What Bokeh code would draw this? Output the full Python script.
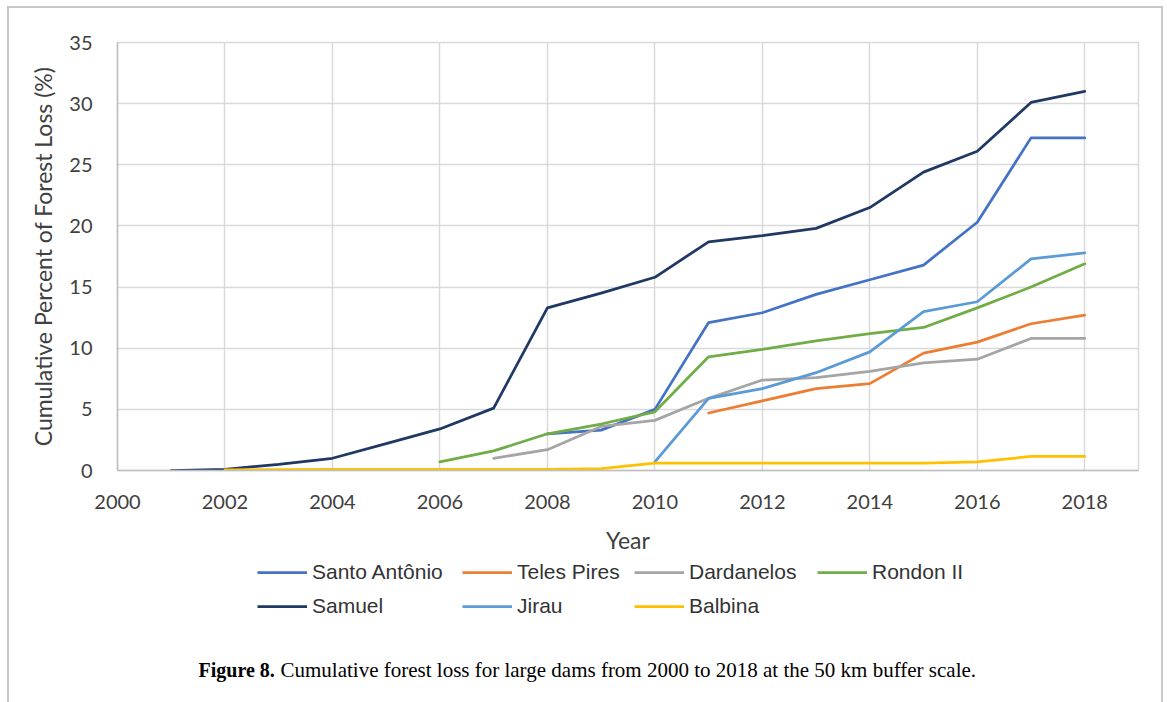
from bokeh.plotting import figure
from bokeh.layouts import column
from bokeh.models import FixedTicker, Legend, LegendItem, Label, Range1d
from bokeh.embed import file_html
from bokeh.resources import INLINE

# ---- data ----
series_names = ["Santo Antônio", "Teles Pires", "Dardanelos", "Rondon II",
                "Samuel", "Jirau", "Balbina"]
series_colors = ["#4472C4", "#ED7D31", "#A5A5A5", "#70AD47",
                 "#1F3864", "#5B9BD5", "#FFC000"]

santo_years = list(range(2008, 2019))
santo_vals = [3.0, 3.3, 5.0, 12.1, 12.9, 14.4, 15.6, 16.8, 20.3, 27.2, 27.2]

teles_years = list(range(2011, 2019))
teles_vals = [4.7, 5.7, 6.7, 7.1, 9.6, 10.5, 12.0, 12.7]

dardanelos_years = list(range(2007, 2019))
dardanelos_vals = [1.0, 1.7, 3.6, 4.1, 5.9, 7.4, 7.6, 8.1, 8.8, 9.1, 10.8, 10.8]

rondon_years = list(range(2006, 2019))
rondon_vals = [0.7, 1.6, 3.0, 3.8, 4.8, 9.3, 9.9, 10.6, 11.2, 11.7, 13.3, 15.0, 16.9]

samuel_years = list(range(2001, 2019))
samuel_vals = [0.0, 0.1, 0.5, 1.0, 2.2, 3.4, 5.1, 13.3, 14.5, 15.8, 18.7, 19.2,
               19.8, 21.5, 24.4, 26.1, 30.1, 31.0]

jirau_years = list(range(2010, 2019))
jirau_vals = [0.7, 5.9, 6.7, 8.0, 9.7, 13.0, 13.8, 17.3, 17.8]

balbina_years = list(range(2002, 2019))
balbina_vals = [0.05, 0.08, 0.1, 0.1, 0.1, 0.1, 0.1, 0.15, 0.6, 0.6, 0.6, 0.6,
                0.6, 0.6, 0.7, 1.15, 1.15]

x_ticks = list(range(2000, 2019, 2))
y_ticks = [0, 5, 10, 15, 20, 25, 30, 35]

series_years = [santo_years, teles_years, dardanelos_years, rondon_years,
                samuel_years, jirau_years, balbina_years]
series_vals = [santo_vals, teles_vals, dardanelos_vals, rondon_vals,
               samuel_vals, jirau_vals, balbina_vals]

caption_bold = "Figure 8."
caption_rest = "Cumulative forest loss for large dams from 2000 to 2018 at the 50 km buffer scale."

TICK_FONT = "Lato"
LINE_W = 2.75
W = 1152

# ---- main chart ----
p = figure(width=W, height=548, output_backend="svg", toolbar_location=None,
           x_range=Range1d(2000, 2019), y_range=Range1d(0, 35),
           min_border_left=108, min_border_right=23, min_border_top=34,
           min_border_bottom=79)
p.background_fill_color = "white"
p.border_fill_color = "white"
p.outline_line_color = "#d9d9d9"
p.outline_line_width = 1.5

p.xaxis.ticker = FixedTicker(ticks=x_ticks)
p.yaxis.ticker = FixedTicker(ticks=y_ticks)
for ax in (p.xaxis[0], p.yaxis[0]):
    ax.axis_line_color = "#bfbfbf"
    ax.axis_line_width = 1.5
    ax.major_tick_line_color = None
    ax.minor_tick_line_color = None
    ax.major_label_text_font = TICK_FONT
    ax.major_label_text_font_size = "20px"
    ax.major_label_text_color = "#404040"
    ax.axis_label_text_font = TICK_FONT
    ax.axis_label_text_font_size = "23px"
    ax.axis_label_text_font_style = "normal"
    ax.axis_label_text_color = "#404040"

p.xaxis.axis_label = "Year"
p.yaxis.axis_label = "Cumulative Percent of Forest Loss (%)"
p.xaxis.major_label_standoff = 18
p.yaxis.major_label_standoff = 19
p.xaxis.axis_label_standoff = 14
p.yaxis.axis_label_standoff = 9

p.xgrid.ticker = FixedTicker(ticks=x_ticks)
p.ygrid.ticker = FixedTicker(ticks=y_ticks)
p.xgrid.grid_line_color = "#d9d9d9"
p.ygrid.grid_line_color = "#d9d9d9"
p.xgrid.grid_line_width = 1.5
p.ygrid.grid_line_width = 1.5

for name, color, xs, ys in zip(series_names, series_colors, series_years, series_vals):
    p.line(xs, ys, line_color=color, line_width=LINE_W, line_join="round",
           line_cap="round")

# ---- legend + caption panel (frame aligned with the chart frame) ----
H2 = 146
q = figure(width=W, height=H2, output_backend="svg", toolbar_location=None,
           x_range=Range1d(0, 1), y_range=Range1d(0, 1),
           x_axis_type=None, y_axis_type=None,
           min_border_left=0, min_border_right=0, min_border_top=0,
           min_border_bottom=0)
q.outline_line_color = None
q.grid.visible = False
q.background_fill_color = "white"
q.border_fill_color = "white"

NAN = float("nan")
legend_pos = [(140, 118), (345, 118), (517, 118), (700, 118),
              (140, 84), (345, 84), (517, 84)]
for name, color, pos in zip(series_names, series_colors, legend_pos):
    r = q.line(x=[NAN], y=[NAN], line_color=color, line_width=LINE_W)
    lg = Legend(items=[LegendItem(label=name, renderers=[r])], location=pos,
                orientation="horizontal", padding=0, margin=0, spacing=0,
                border_line_color=None, background_fill_alpha=0,
                glyph_width=50, glyph_height=24, label_height=24,
                label_standoff=5, label_text_font="Liberation Sans",
                label_text_font_size="21px", label_text_color="#333333")
    q.add_layout(lg, "center")

q.add_layout(Label(x=81, y=33, x_units="screen", y_units="screen",
                   text=caption_bold, text_font="Liberation Serif",
                   text_font_style="bold", text_font_size="20px",
                   text_baseline="middle", text_color="black"))
q.add_layout(Label(x=163, y=33, x_units="screen", y_units="screen",
                   text=caption_rest, text_font="Liberation Serif",
                   text_font_size="21px", text_baseline="middle",
                   text_color="black"))

layout = column(p, q, spacing=0)
layout.styles = {"margin-left": "7px", "margin-top": "6px",
                 "border-left": "2px solid #c8c8c8",
                 "border-top": "2px solid #c8c8c8",
                 "border-right": "2px solid #c8c8c8"}

open("out.html", "w").write(file_html(layout, INLINE))
